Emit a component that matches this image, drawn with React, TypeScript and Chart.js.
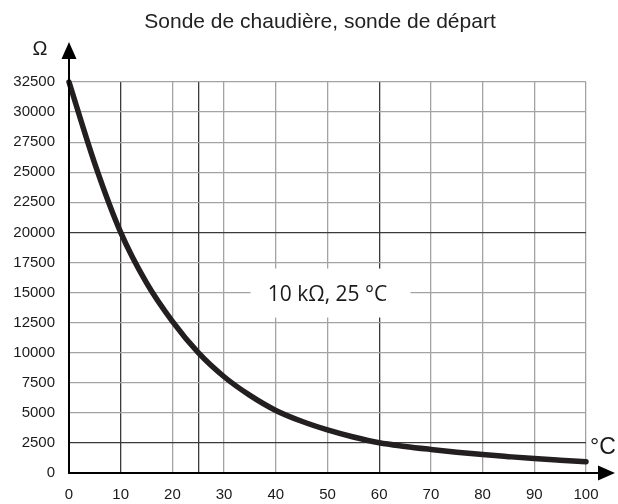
import React, { useEffect, useRef } from "react";
import { Chart, registerables } from "chart.js";

Chart.register(...registerables);

const TITLE = "Sonde de chaudière, sonde de départ";
const ANNOTATION = "10 kΩ, 25 °C";
const Y_UNIT = "Ω";
const X_UNIT = "°C";

const temperatures = [0, 5, 10, 15, 20, 25, 30, 35, 40, 45, 50, 55, 60, 65, 70, 75, 80, 85, 90, 95, 100];
const resistances = [32500, 25700, 20000, 15800, 12600, 10000, 8000, 6450, 5200, 4300, 3580, 2990, 2510, 2210, 1960, 1730, 1530, 1360, 1200, 1065, 940];

const xTickValues = [0, 10, 20, 25, 30, 40, 50, 60, 70, 80, 90, 100];
const xDarkLines = [10, 25, 60];
const yDarkLines = [20000, 2500];
const annotationAt = [50, 15000];

const DARK = "#3a3a3a";
const LIGHT = "#a3a3a3";
const FONT = "'Liberation Sans', Arial, sans-serif";

const decorPlugin = {
  id: "decor",
  beforeDatasetsDraw(chart: any) {
    const { ctx, scales } = chart;
    const cx = scales.x.getPixelForValue(annotationAt[0]);
    const cy = scales.y.getPixelForValue(annotationAt[1]);
    ctx.save();
    ctx.fillStyle = "#ffffff";
    ctx.fillRect(cx - 77, cy - 24, 160, 49);
    ctx.fillStyle = "#1a1a1a";
    ctx.font = "21px 'Open Sans', sans-serif";
    ctx.textAlign = "center";
    ctx.textBaseline = "middle";
    ctx.fillText(ANNOTATION, cx, cy + 2);
    ctx.restore();
  },
  afterDraw(chart: any) {
    const { ctx, chartArea } = chart;
    const { left, bottom } = chartArea;
    ctx.save();
    ctx.strokeStyle = "#000";
    ctx.fillStyle = "#000";
    ctx.lineWidth = 2;
    ctx.beginPath();
    ctx.moveTo(left, bottom + 1);
    ctx.lineTo(left, 58);
    ctx.stroke();
    ctx.beginPath();
    ctx.moveTo(left, 42);
    ctx.lineTo(left - 7.5, 59);
    ctx.lineTo(left + 7.5, 59);
    ctx.closePath();
    ctx.fill();
    ctx.beginPath();
    ctx.moveTo(left - 1, bottom);
    ctx.lineTo(600, bottom);
    ctx.stroke();
    ctx.beginPath();
    ctx.moveTo(615, bottom);
    ctx.lineTo(598, bottom - 7.5);
    ctx.lineTo(598, bottom + 7.5);
    ctx.closePath();
    ctx.fill();
    ctx.fillStyle = "#1a1a1a";
    ctx.textAlign = "center";
    ctx.textBaseline = "middle";
    ctx.font = `20px ${FONT}`;
    ctx.fillText(Y_UNIT, 40, 49);
    ctx.font = `23px ${FONT}`;
    ctx.fillText(X_UNIT, 603, 448);
    ctx.font = `21px ${FONT}`;
    ctx.fillStyle = "#222";
    ctx.fillText(TITLE, 320, 22);
    ctx.restore();
  },
};

export default function App() {
  const ref = useRef<HTMLCanvasElement>(null);
  useEffect(() => {
    if (!ref.current) return;
    const chart = new Chart(ref.current, {
      type: "line",
      data: {
        datasets: [
          {
            data: temperatures.map((t, i) => ({ x: t, y: resistances[i] })),
            borderColor: "#231f20",
            borderWidth: 5.5,
            pointRadius: 0,
            cubicInterpolationMode: "monotone",
            borderCapStyle: "round",
            clip: false as any,
          },
        ],
      },
      options: {
        animation: false,
        responsive: false,
        layout: { padding: { left: 0, right: 32, top: 82, bottom: 0 } },
        plugins: { legend: { display: false }, title: { display: false }, tooltip: { enabled: false } },
        scales: {
          x: {
            type: "linear",
            min: 0,
            max: 100,
            afterBuildTicks: (s: any) => {
              s.ticks = xTickValues.map((v) => ({ value: v }));
            },
            afterFit: (s: any) => {
              s.height = 31;
            },
            ticks: {
              autoSkip: false,
              maxRotation: 0,
              padding: 13,
              color: "#1a1a1a",
              font: { family: FONT, size: 15 },
              callback: (v: any) => (v === 25 ? "" : String(v)),
            },
            grid: {
              drawTicks: false,
              color: (c: any) => (xDarkLines.includes(c.tick?.value) ? DARK : LIGHT),
              lineWidth: 1.3,
            },
            border: { display: false },
          },
          y: {
            type: "linear",
            min: 0,
            max: 32500,
            afterFit: (s: any) => {
              s.width = 69;
            },
            ticks: {
              stepSize: 2500,
              autoSkip: false,
              padding: 14,
              color: "#1a1a1a",
              font: { family: FONT, size: 15 },
              callback: (v: any) => String(v),
            },
            grid: {
              drawTicks: false,
              color: (c: any) => (yDarkLines.includes(c.tick?.value) ? DARK : LIGHT),
              lineWidth: 1.3,
            },
            border: { display: false },
          },
        },
      },
      plugins: [decorPlugin],
    } as any);
    return () => chart.destroy();
  }, []);
  return (
    <div style={{ position: "absolute", left: 0, top: 0, width: 618, height: 504, background: "#fff" }}>
      <canvas ref={ref} width={618} height={504} />
    </div>
  );
}
